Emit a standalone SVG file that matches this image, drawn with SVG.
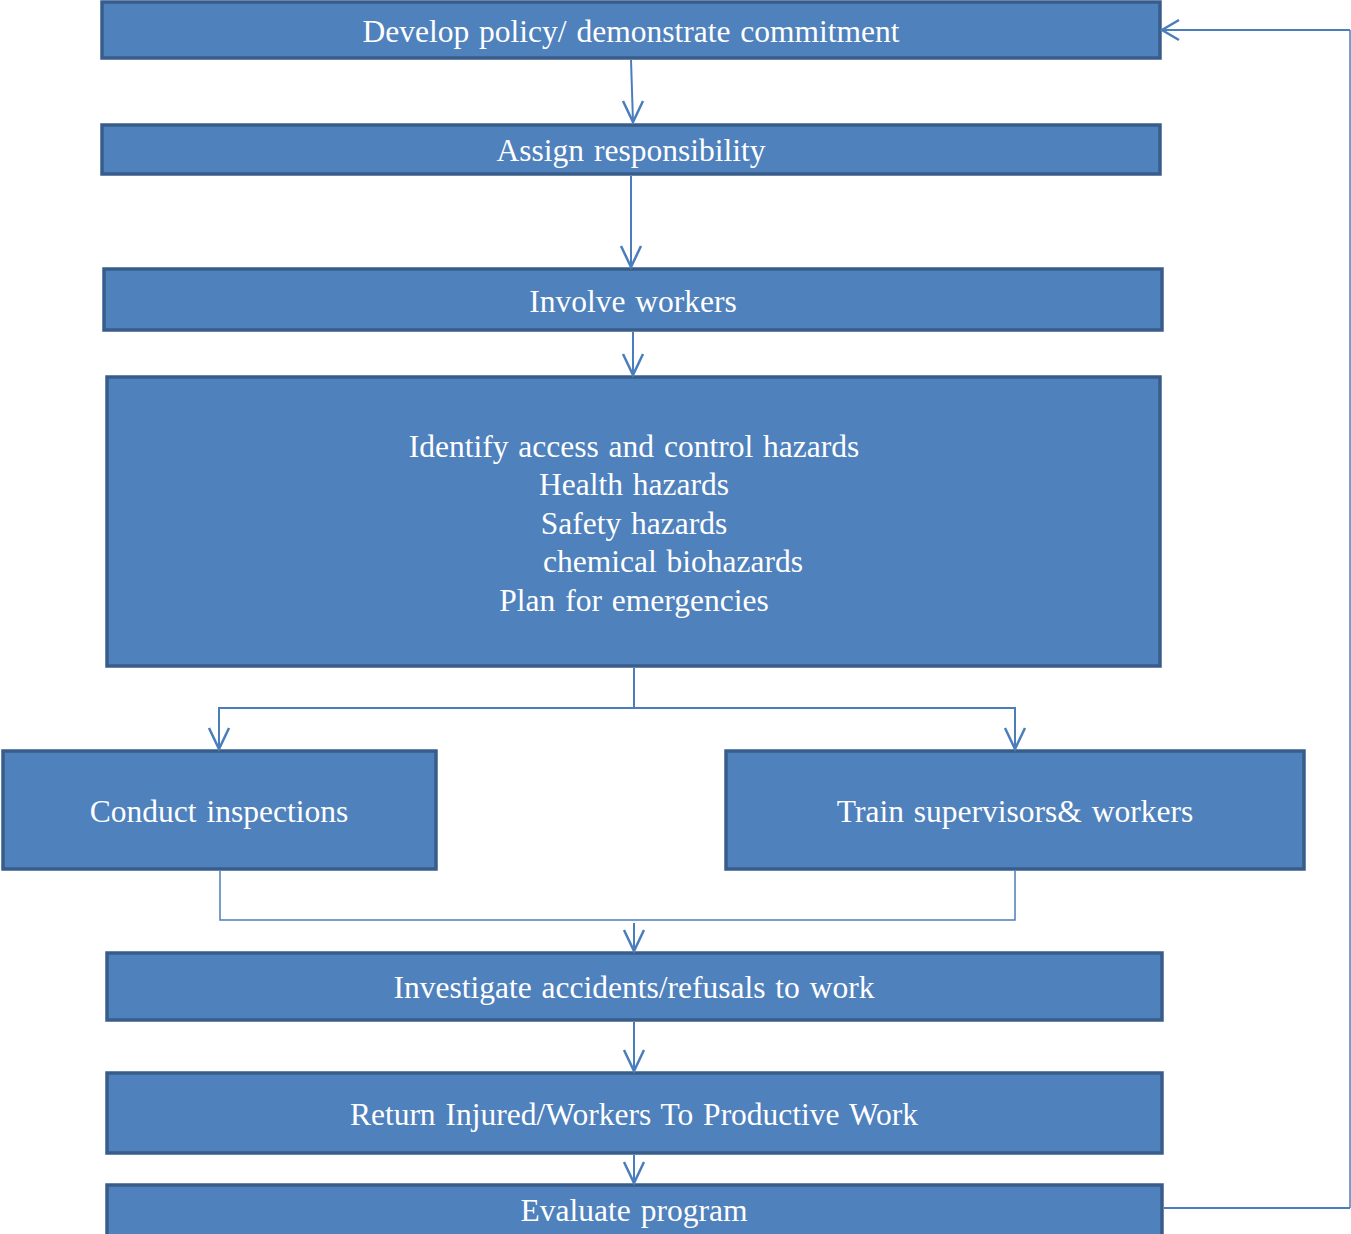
<svg xmlns="http://www.w3.org/2000/svg" width="1351" height="1234" viewBox="0 0 1351 1234">
<style>
.box{fill:#4F81BD;stroke:#385D8A;stroke-width:3.5}
.t{font-family:"Liberation Serif","Times New Roman",serif;font-size:31.5px;fill:#FFFFFF;text-anchor:middle;word-spacing:2px}
.c{fill:none;stroke:#4A7EBB;stroke-width:2}
.a{fill:none;stroke:#4A7EBB;stroke-width:2.5}
.thin{fill:none;stroke:#4A7EBB;stroke-width:1.5}
</style>
<rect width="1351" height="1234" fill="#FFFFFF"/>
<g id="n1"><rect class="box" x="102" y="2" width="1058" height="56"/><text class="t" x="631" y="42">Develop policy/ demonstrate commitment</text></g>
<g id="n2"><rect class="box" x="102" y="125" width="1058" height="49"/><text class="t" x="631" y="161">Assign responsibility</text></g>
<g id="n3"><rect class="box" x="104" y="269" width="1058" height="61"/><text class="t" x="633" y="312">Involve  workers</text></g>
<g id="n4"><rect class="box" x="107" y="377" width="1053" height="289"/>
<text class="t" x="634" y="457">Identify access and control hazards</text>
<text class="t" x="634" y="495">Health hazards</text>
<text class="t" x="634" y="534">Safety hazards</text>
<text class="t" x="673" y="572">chemical biohazards</text>
<text class="t" x="634" y="611">Plan for emergencies</text></g>
<g id="n5"><rect class="box" x="3" y="751" width="433" height="118"/><text class="t" x="219" y="822">Conduct inspections</text></g>
<g id="n6"><rect class="box" x="726" y="751" width="578" height="118"/><text class="t" x="1015" y="822">Train supervisors&amp; workers</text></g>
<g id="n7"><rect class="box" x="107" y="953" width="1055" height="67"/><text class="t" x="634" y="998">Investigate accidents/refusals to work</text></g>
<g id="n8"><rect class="box" x="107" y="1073" width="1055" height="80"/><text class="t" x="634" y="1125">Return Injured/Workers To Productive Work</text></g>
<g id="n9"><rect class="box" x="107" y="1185" width="1055" height="60"/><text class="t" x="634" y="1221">Evaluate program</text></g>
<g id="connectors">
<path class="c" d="M631 60 L633 122"/><path class="a" d="M623 101 L633 122 L643 101"/>
<path class="c" d="M631 176 L631 266"/><path class="a" d="M621 246 L631 267 L641 246"/>
<path class="c" d="M633 332 L633 374"/><path class="a" d="M623 354 L633 375 L643 354"/>
<path class="c" d="M634 668 L634 708 M219 748 L219 708 L1015 708 L1015 748"/>
<path class="a" d="M209 728 L219 749 L229 728"/><path class="a" d="M1005 728 L1015 749 L1025 728"/>
<path class="thin" d="M220 871 L220 920 L1015 920 L1015 871"/>
<path class="c" d="M634 923 L634 950"/><path class="a" d="M624 930 L634 951 L644 930"/>
<path class="c" d="M634 1022 L634 1070"/><path class="a" d="M624 1050 L634 1071 L644 1050"/>
<path class="c" d="M634 1155 L634 1182"/><path class="a" d="M624 1162 L634 1183 L644 1162"/>
<path class="c" d="M1164 1208 L1350 1208"/>
<path class="thin" d="M1350 1208 L1350 30"/>
<path class="c" d="M1350 30 L1163 30"/><path class="a" d="M1179 20 L1162 30 L1179 40"/>
</g>
</svg>
